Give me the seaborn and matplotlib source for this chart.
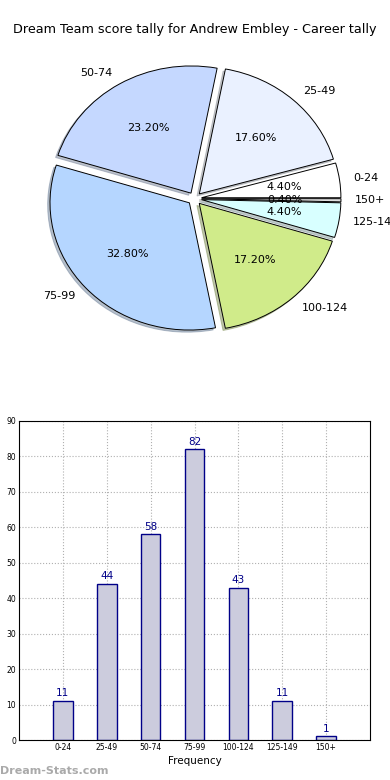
import matplotlib
matplotlib.use("Agg")
import matplotlib.pyplot as plt
import seaborn as sns
import pandas as pd

categories = ["0-24", "25-49", "50-74", "75-99", "100-124", "125-149", "150+"]
counts = [11, 44, 58, 82, 43, 11, 1]
pie_colors = ["#ffffff", "#eaf1ff", "#c5d8ff", "#b5d6ff", "#d0eb8a", "#d8ffff", "#e0e0e0"]
title = "Dream Team score tally for Andrew Embley - Career tally"

sns.set_style("white")
plt.rcParams['font.family'] = ['DejaVu Sans']
plt.rcParams['text.color'] = 'black'
plt.rcParams['axes.labelcolor'] = 'black'
plt.rcParams['xtick.color'] = 'black'
plt.rcParams['ytick.color'] = 'black'

fig = plt.figure(figsize=(3.9, 7.8), dpi=100)

# ---- Pie ----
cx, cy, rx, ry = 194.6, 198.6, 139.4, 127.2
W, H = 390, 780
ax1 = fig.add_axes([0, 0.5, 1, 0.5])
ax1.pie(counts, labels=categories, colors=pie_colors, explode=[0.05] * len(counts),
        autopct="%.2f%%", shadow=dict(ox=-0.012, oy=-0.012, shade=0.4),
        startangle=0, counterclock=True,
        wedgeprops=dict(edgecolor="black", linewidth=0.7),
        textprops=dict(fontsize=8, color="black"))
ax1.set_aspect("auto")
ax1.set_xlim(-cx / rx, (W - cx) / rx)
ax1.set_ylim(-(390 - cy) / ry, cy / ry)
ax1.axis("off")
fig.text(0.5, 1 - 30 / 780, title, ha="center", va="center", fontsize=9.2, color="black")

# ---- Bar ----
df = pd.DataFrame({"range": categories, "count": counts})
ax2 = fig.add_axes([19 / W, 40 / H, 351 / W, 319 / H])
sns.barplot(data=df, x="range", y="count", ax=ax2, color="#ccccdd", saturation=1,
            width=0.45, edgecolor="#000088", linewidth=1)
ax2.set_xlim(-1, 7)
ax2.set_ylim(0, 90)
ax2.set_yticks(range(0, 91, 10))
ax2.grid(True, linestyle=":", color="#b0b0b0", linewidth=0.8)
ax2.set_axisbelow(True)
for s in ax2.spines.values():
    s.set_visible(True)
    s.set_color("black")
    s.set_linewidth(0.8)
ax2.tick_params(axis="both", labelsize=5.5, length=2, direction="in", pad=2)
ax2.set_xlabel("Frequency", fontsize=7.5, labelpad=3)
ax2.set_ylabel("")
for i, v in enumerate(counts):
    ax2.text(i, v + 0.8, str(v), ha="center", va="bottom", fontsize=7.5, color="#000088")

fig.text(0.0, 1 - 771 / 780, "Dream-Stats.com", ha="left", va="center", fontsize=8,
         color="#aaaaaa", fontweight="bold")

fig.savefig("out.png", dpi=100)
